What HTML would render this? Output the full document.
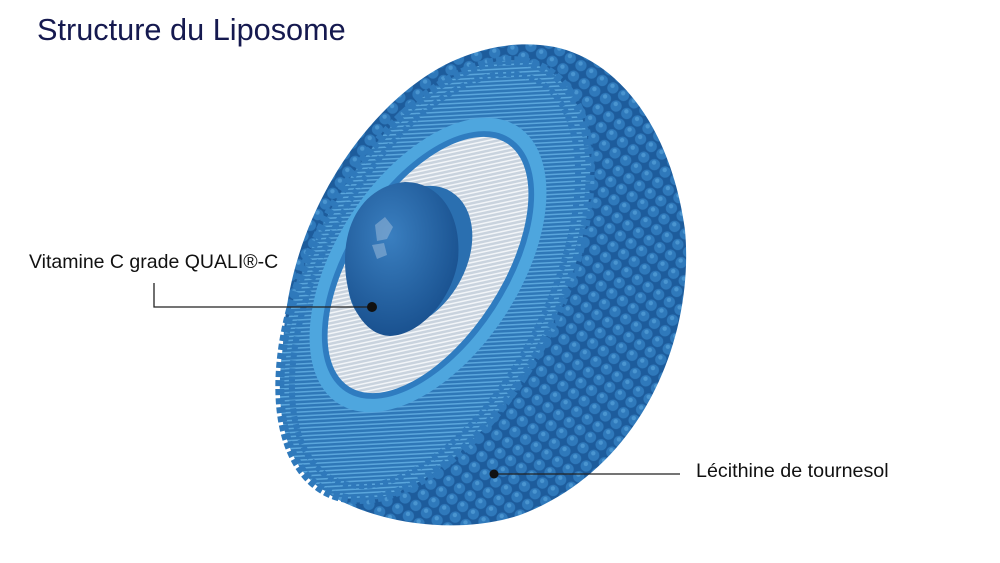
<!DOCTYPE html>
<html><head><meta charset="utf-8"><style>
html,body{margin:0;padding:0;background:#fff;}
body{width:1000px;height:563px;position:relative;overflow:hidden;font-family:"Liberation Sans",sans-serif;}
.t{position:absolute;left:37px;top:12px;font-size:30.7px;color:#15194f;}
.l1{position:absolute;left:29px;top:251px;font-size:19.5px;color:#111;}
.l2{position:absolute;left:696px;top:460px;font-size:19.7px;color:#111;}
</style></head><body>
<svg width="1000" height="563" style="position:absolute;left:0;top:0">
<defs>
<pattern id="dots" width="13" height="13" patternUnits="userSpaceOnUse" patternTransform="rotate(35)">
<rect width="13" height="13" fill="#1d5c9c"/>
<circle cx="6.5" cy="6.5" r="5.6" fill="#2f79bb"/>
<circle cx="5" cy="5" r="2.2" fill="#4a95d0"/>
</pattern>
<pattern id="tails" width="4" height="4" patternUnits="userSpaceOnUse" patternTransform="rotate(60)">
<rect width="4" height="4" fill="#2f78b8"/>
<rect width="1.5" height="4" fill="#5aa6dc"/>
</pattern>
<pattern id="wt" width="4" height="4" patternUnits="userSpaceOnUse" patternTransform="rotate(45)">
<rect width="4" height="4" fill="#c9d3de"/>
<rect width="1.5" height="4" fill="#f2f5f8"/>
</pattern>
<radialGradient id="sph" cx="0.4" cy="0.35" r="0.7">
<stop offset="0" stop-color="#3a7fc0"/><stop offset="1" stop-color="#174e8c"/>
</radialGradient>
</defs>
<path d="M540,45 C610,50 670,120 685,230 C695,340 640,470 520,515 C460,535 380,525 330,495 C290,465 278,400 284,330 C295,200 380,90 460,58 C490,46 515,43 540,45 Z" fill="url(#dots)"/>
<ellipse cx="435" cy="280" rx="125" ry="238" transform="rotate(27 435 280)" fill="url(#tails)"/>
<ellipse cx="435" cy="280" rx="125" ry="238" transform="rotate(27 435 280)" fill="none" stroke="#2f79bb" stroke-width="9" stroke-dasharray="6 3"/>
<ellipse cx="435" cy="280" rx="113" ry="224" transform="rotate(27 435 280)" fill="none" stroke="#2f79bb" stroke-width="6" stroke-dasharray="5 3"/>
<ellipse cx="428" cy="265" rx="92" ry="165" transform="rotate(33 428 265)" fill="#4ea6de"/>
<ellipse cx="428" cy="265" rx="80" ry="151" transform="rotate(33 428 265)" fill="#2f7cc0"/>
<ellipse cx="428" cy="265" rx="74" ry="145" transform="rotate(33 428 265)" fill="url(#wt)"/>
<ellipse cx="410" cy="258" rx="55" ry="78" transform="rotate(32 410 258)" fill="#2a6fb0"/>
<path d="M345,260 C345,215 370,185 405,182 C440,182 462,215 458,260 C452,300 420,335 390,336 C362,335 345,300 345,260 Z" fill="url(#sph)"/>
<path d="M375,225 l10,-8 l8,10 l-6,12 l-10,2 z M372,245 l12,-2 l3,12 l-10,4 z" fill="#8fb3d6" opacity="0.6"/>
<polyline points="154,283 154,307 372,307" fill="none" stroke="#222" stroke-width="1.3"/>
<circle cx="372" cy="307" r="5" fill="#111"/>
<line x1="494" y1="474" x2="680" y2="474" stroke="#222" stroke-width="1.3"/>
<circle cx="494" cy="474" r="4.5" fill="#111"/>
</svg>
<div class="t">Structure du Liposome</div>
<div class="l1">Vitamine C grade QUALI®-C</div>
<div class="l2">Lécithine de tournesol</div>
</body></html>
